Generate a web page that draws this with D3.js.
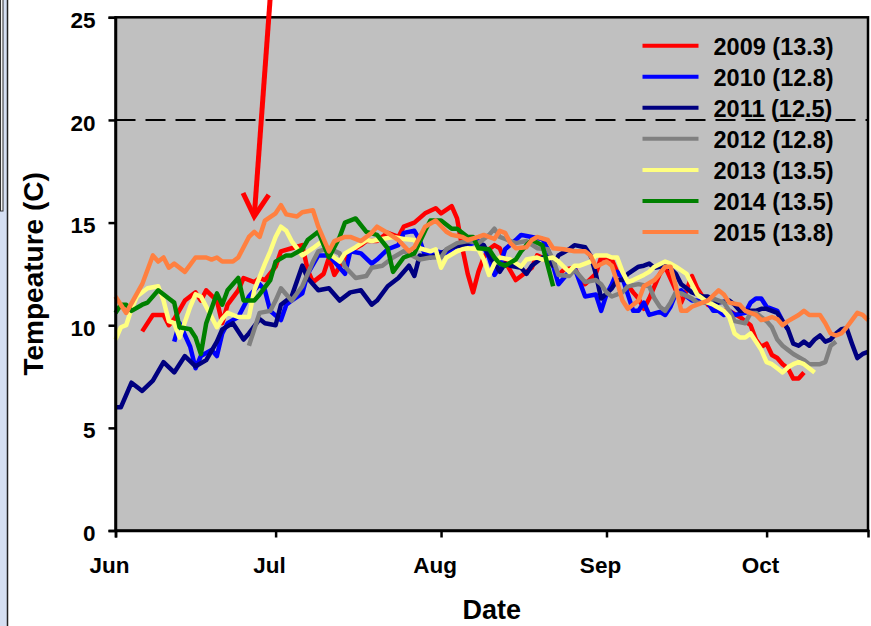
<!DOCTYPE html>
<html>
<head>
<meta charset="utf-8">
<script src="https://cdn.jsdelivr.net/npm/d3@7"></script>
<style>
  body { margin: 0; background: #ffffff; }
  svg text { font-family: "Liberation Sans", Arial, sans-serif; font-weight: bold; fill: #000; }
</style>
</head>
<body>
<div id="chart-area"></div>
<script>
// Daily water temperature, [days after Jun 1, temperature C]
const t2009 = [[5,9.7],[7,10.5],[9,10.5],[10,10.0],[11,10.3],[13,11.2],[15,11.6],[16,11.2],[17,11.7],[19,11.2],[20,10.1],[21,11.0],[23,11.7],[24,12.3],[26,12.1],[27,12.3],[28,12.2],[30,12.85],[31,13.6],[33,13.75],[35,13.9],[36,12.7],[37,12.1],[39,12.5],[40,13.3],[41,12.45],[42,12.85],[44,13.6],[46,13.9],[47,14.1],[49,14.1],[51,14.5],[53,14.3],[54,14.8],[56,15.0],[58,15.45],[60,15.7],[61,15.45],[63,15.8],[64,15.2],[65,13.75],[66,12.5],[67,11.6],[68,12.6],[69,13.3],[70,13.7],[71,13.9],[72,13.75],[73,13.1],[75,12.2],[76,12.4],[78,12.8],[79,13.4],[80,13.3],[82,12.9],[83,12.45],[84,12.7],[86,12.8],[87,12.3],[88,12.0],[90,12.5],[91,13.3],[93,13.2],[94,12.6],[95,12.3],[97,11.6],[98,11.3],[99,10.8],[100,11.3],[101,11.9],[102,12.5],[103,12.85],[105,11.7],[106,11.1],[107,11.7],[108,12.4],[109,11.8],[111,11.0],[113,10.7],[115,10.7],[117,10.4],[119,10.0],[120,9.3],[121,8.95],[122,9.1],[123,8.55],[124,8.4],[125,8.1],[126,7.9],[127,7.4],[128,7.4],[129,7.7]];
const t2010 = [[11,9.2],[12,10.1],[14,8.95],[15,7.9],[16,8.5],[18,8.8],[19,8.5],[20,9.6],[21,10.1],[23,10.4],[25,11.4],[26,11.7],[27,12.0],[28,11.7],[29,10.7],[31,10.25],[32,11.0],[33,11.2],[35,11.55],[36,12.5],[38,13.4],[40,13.4],[41,13.1],[43,12.5],[44,13.6],[46,13.5],[48,13.0],[49,13.2],[51,13.7],[53,13.9],[54,14.5],[56,14.6],[57,14.15],[58,13.4],[60,13.6],[62,13.5],[64,13.9],[65,14.0],[66,13.9],[68,14.1],[69,13.8],[70,13.3],[71,12.45],[72,12.85],[73,13.7],[75,14.15],[76,14.4],[78,14.3],[80,14.2],[81,13.7],[82,12.9],[83,12.0],[85,12.6],[86,12.8],[87,12.1],[88,11.4],[90,11.5],[91,10.7],[92,11.5],[93,12.0],[94,12.6],[95,12.3],[96,11.5],[97,10.7],[98,10.7],[99,11.1],[100,10.5],[102,10.65],[103,10.5],[104,10.9],[105,11.55],[106,11.7],[107,11.4],[108,11.2],[109,11.2],[111,11.1],[112,10.7],[113,10.7],[114,10.5],[115,10.7],[116,10.5],[118,10.6],[119,11.1],[120,11.3],[121,11.3],[122,10.9],[123,10.8],[124,10.7],[125,10.2],[126,9.8]];
const t2011 = [[0,6.0],[1,6.0],[3,7.2],[5,6.8],[7,7.3],[9,8.2],[11,7.7],[13,8.5],[15,8.0],[17,8.3],[19,9.2],[20,9.8],[22,10.1],[24,9.3],[25,9.6],[27,10.3],[28,10.1],[30,10.0],[31,11.0],[33,11.4],[35,12.9],[36,12.3],[38,11.7],[40,11.8],[42,11.2],[44,11.6],[46,11.7],[48,11.0],[49,11.2],[51,11.9],[53,12.3],[55,12.9],[56,12.4],[57,13.4],[59,13.3],[61,13.5],[63,13.8],[65,13.9],[67,14.1],[69,13.9],[70,13.4],[72,12.6],[73,13.0],[74,12.9],[76,12.8],[77,12.5],[78,12.9],[80,13.3],[81,13.3],[82,12.9],[83,13.4],[85,13.7],[86,13.9],[88,13.8],[89,13.4],[90,12.5],[91,11.3],[93,11.8],[94,12.2],[95,12.2],[96,12.5],[98,12.85],[99,12.9],[100,13.0],[101,12.8],[102,12.85],[103,13.0],[105,12.5],[106,12.0],[107,11.8],[108,11.6],[110,11.4],[111,11.4],[112,11.2],[113,11.1],[115,11.2],[116,11.0],[117,10.7],[118,10.7],[120,10.7],[121,10.8],[122,10.8],[124,10.6],[125,10.2],[126,9.8],[127,9.1],[128,9.0],[129,9.2],[130,9.0],[131,9.3],[132,9.5],[133,9.2],[134,9.3],[135,9.6],[136,9.8],[137,9.85],[138,9.1],[139,8.4],[140,8.6],[141,8.7]];
const t2012 = [[25,9.0],[26,9.8],[27,10.6],[29,10.7],[30,11.2],[31,11.8],[32,11.5],[33,11.2],[35,11.9],[37,13.1],[38,13.6],[40,13.75],[42,13.5],[43,12.85],[45,12.3],[47,12.4],[48,12.8],[50,12.9],[52,13.3],[54,13.6],[57,13.2],[59,13.3],[61,13.3],[62,13.7],[64,14.0],[66,14.1],[68,14.0],[70,14.4],[71,14.7],[72,14.3],[73,14.2],[75,14.0],[77,14.1],[79,13.75],[81,13.7],[82,13.2],[83,12.45],[85,12.4],[86,12.7],[87,12.4],[88,12.1],[90,12.2],[91,12.0],[92,11.6],[93,11.4],[95,11.6],[96,11.9],[98,12.0],[100,11.9],[101,11.3],[102,10.9],[103,10.7],[104,11.1],[105,11.6],[106,11.55],[108,11.3],[109,11.1],[111,11.1],[112,11.3],[114,11.1],[115,10.7],[116,10.2],[118,10.1],[119,10.6],[120,10.6],[121,10.4],[122,10.2],[123,9.9],[124,9.3],[125,9.0],[126,8.8],[127,8.6],[129,8.3],[130,8.1],[132,8.1],[133,8.2],[134,9.0],[135,9.2]];
const t2013 = [[0,9.3],[1,9.9],[2,10.0],[3,10.8],[4,11.4],[6,11.8],[8,11.9],[9,11.2],[10,10.2],[11,10.1],[12,9.4],[14,10.9],[15,11.5],[16,11.4],[18,10.4],[19,9.9],[20,10.3],[21,10.6],[23,10.4],[25,10.4],[26,11.7],[28,13.0],[29,13.6],[30,14.3],[31,14.8],[32,14.6],[33,14.1],[35,13.4],[37,13.75],[39,14.15],[40,13.5],[42,13.1],[43,13.5],[45,13.8],[47,14.15],[48,14.1],[50,14.2],[52,14.3],[54,14.2],[56,14.15],[57,13.75],[59,13.6],[60,13.7],[61,12.8],[62,13.3],[64,13.6],[65,13.7],[66,13.75],[68,13.7],[69,13.2],[70,12.45],[71,13.0],[72,13.3],[74,13.2],[76,12.85],[77,13.2],[79,13.3],[80,13.2],[82,13.3],[83,13.1],[85,12.6],[86,12.9],[87,12.9],[89,13.1],[90,13.4],[92,13.4],[93,13.3],[94,13.3],[95,12.6],[96,12.1],[97,12.2],[99,12.45],[100,12.6],[101,12.85],[103,13.1],[104,13.0],[105,12.85],[107,12.5],[108,12.0],[109,11.5],[110,11.3],[111,11.1],[112,11.0],[114,10.7],[115,10.4],[116,9.6],[117,9.4],[118,9.4],[119,9.6],[120,9.2],[121,8.8],[122,8.2],[123,8.1],[124,7.9],[125,7.7],[126,7.95],[127,8.1],[128,8.2],[129,8.1],[131,7.7]];
const t2014 = [[0,10.6],[1,11.0],[2,11.0],[3,10.7],[5,11.0],[6,11.1],[8,11.7],[10,11.3],[11,11.1],[12,9.9],[14,9.8],[15,9.4],[16,8.6],[17,10.1],[19,11.55],[20,11.0],[21,11.7],[23,12.3],[24,11.2],[26,11.2],[27,11.5],[29,12.2],[30,13.1],[32,13.4],[33,13.4],[35,13.7],[36,14.15],[38,14.55],[40,13.3],[42,14.3],[43,15.0],[45,15.2],[47,14.55],[49,14.4],[51,13.75],[52,12.6],[54,13.3],[56,13.5],[58,14.6],[59,15.1],[61,15.1],[63,14.7],[64,14.7],[66,14.3],[67,14.3],[68,13.75],[70,13.7],[71,13.3],[72,13.0],[73,12.9],[75,13.2],[76,13.6],[77,13.9],[78,14.15],[80,13.9],[81,12.9],[82,11.9]];
const t2015 = [[0,11.4],[2,10.6],[5,12.0],[7,13.4],[8,13.1],[9,13.3],[10,12.8],[11,13.0],[13,12.6],[15,13.3],[17,13.3],[18,13.2],[19,13.3],[20,13.1],[22,13.1],[23,13.3],[25,14.3],[26,14.55],[27,14.3],[28,15.1],[30,15.45],[31,15.85],[32,15.4],[34,15.3],[35,15.5],[37,15.6],[38,14.8],[40,13.6],[41,14.1],[43,14.3],[44,14.3],[46,14.1],[48,14.5],[49,14.8],[51,14.5],[53,14.15],[55,13.6],[56,13.8],[58,14.8],[60,15.1],[62,14.55],[63,14.4],[65,14.3],[66,14.15],[68,14.3],[69,14.4],[71,14.2],[72,14.6],[73,14.5],[74,14.0],[75,13.75],[77,13.8],[78,14.15],[79,14.3],[81,14.15],[82,13.75],[84,13.7],[86,13.6],[88,13.6],[89,13.4],[90,12.85],[92,13.1],[93,12.9],[94,12.1],[95,11.2],[96,10.8],[98,11.2],[99,11.9],[101,12.2],[102,12.5],[103,12.85],[104,12.85],[105,11.9],[106,10.7],[107,10.7],[108,10.9],[110,11.1],[111,11.2],[113,11.7],[114,11.5],[115,11.1],[117,11.0],[118,10.7],[120,10.5],[121,10.25],[122,10.3],[123,10.4],[124,10.3],[125,10.0],[126,10.2],[128,10.5],[129,10.7],[130,10.5],[132,10.5],[133,10.1],[134,9.6],[135,9.5],[136,9.6],[137,9.9],[138,10.25],[139,10.6],[140,10.5],[141,10.25]];

// Legend labels (season mean) and colours
const seriesNames = ['2009 (13.3)', '2010 (12.8)', '2011 (12.5)', '2012 (12.8)', '2013 (13.5)', '2014 (13.5)', '2015 (13.8)'];
const seriesColors = ['#FF0000', '#0000FF', '#000080', '#808080', '#FFFF80', '#008000', '#FF8040'];
const seriesData = [t2009, t2010, t2011, t2012, t2013, t2014, t2015];

const yTicks = [0, 5, 10, 15, 20, 25];
const monthTicks = ['Jun', 'Jul', 'Aug', 'Sep', 'Oct'];
const thresholdTemp = 20;
// Annotation arrow, [day, temperature] of tail and tip
const arrowTail = [29.5, 26.0];
const arrowTip = [26.5, 15.3];

const seasonStart = new Date(2015, 5, 1);
const seasonEnd = new Date(2015, 9, 20);
const toDate = d => d3.timeDay.offset(seasonStart, d);

function drawChart() {
    const W = 871, H = 626;
    const margin = { top: 17.3, right: 3, bottom: 95.5, left: 115.5 };
    const width = W - margin.left - margin.right;
    const height = H - margin.top - margin.bottom;

    const svg = d3.select("#chart-area")
        .append("svg")
        .attr("width", W)
        .attr("height", H);

    // Slide edge on the left
    svg.append("rect").attr("x", 0).attr("y", 0).attr("width", 7).attr("height", H).attr("fill", "#D5DFF2");
    svg.append("rect").attr("x", 0.5).attr("y", -1).attr("width", 2.5).attr("height", 212)
        .attr("fill", "#F2F2F2").attr("stroke", "#333").attr("stroke-width", 1);
    svg.append("line").attr("x1", 7.5).attr("x2", 7.5).attr("y1", 0).attr("y2", H)
        .attr("stroke", "#222").attr("stroke-width", 1.5);

    const g = svg.append("g")
        .attr("transform", `translate(${margin.left},${margin.top})`);

    const x = d3.scaleTime()
        .domain([seasonStart, seasonEnd])
        .range([0, width]);

    const y = d3.scaleLinear()
        .domain([0, 25])
        .range([height, 0]);

    // Plot background
    g.append("rect")
        .attr("width", width)
        .attr("height", height)
        .attr("fill", "#C0C0C0");

    // Temperature lines
    const line = d3.line()
        .x(d => x(toDate(d[0])))
        .y(d => y(d[1]));

    g.selectAll(".series")
        .data(seriesData)
        .enter()
        .append("path")
        .attr("class", "series")
        .attr("d", line)
        .attr("fill", "none")
        .attr("stroke", (d, i) => seriesColors[i])
        .attr("stroke-width", 4.5)
        .attr("stroke-linejoin", "round");

    // Legend
    const legend = g.selectAll(".legend")
        .data(seriesNames)
        .enter()
        .append("g")
        .attr("class", "legend")
        .attr("transform", (d, i) => `translate(527, ${28.4 + i * 31.05})`);

    legend.append("line")
        .attr("x1", 0).attr("x2", 56)
        .attr("stroke", (d, i) => seriesColors[i])
        .attr("stroke-width", 4);

    legend.append("text")
        .attr("x", 71)
        .attr("y", 9)
        .style("font-size", "23.5px")
        .text(d => d);

    // Dashed 20 C threshold
    g.append("line")
        .attr("x1", 0).attr("x2", width)
        .attr("y1", y(thresholdTemp)).attr("y2", y(thresholdTemp))
        .attr("stroke", "#000")
        .attr("stroke-width", 2)
        .attr("stroke-dasharray", "20,10");

    // Frame
    g.append("rect")
        .attr("width", width)
        .attr("height", height)
        .attr("fill", "none")
        .attr("stroke", "#000")
        .attr("stroke-width", 2.5);

    // Axes
    const yAxis = g.append("g")
        .call(d3.axisLeft(y).tickValues(yTicks).tickSize(7).tickPadding(13));
    yAxis.selectAll("text").attr("dy", "0.45em").style("font-size", "22.5px");

    const monthDates = d3.timeMonth.range(seasonStart, seasonEnd);
    const xAxis = g.append("g")
        .attr("transform", `translate(0,${height})`)
        .call(d3.axisBottom(x).tickValues(monthDates).tickSize(7).tickPadding(20)
            .tickFormat((d, i) => monthTicks[i]));
    xAxis.selectAll("text").attr("dx", "-6.5").style("font-size", "22.5px");

    [yAxis, xAxis].forEach(a => {
        a.select(".domain").attr("stroke-width", 2.5);
        a.selectAll(".tick line").attr("stroke-width", 2.5);
    });

    // Axis titles
    svg.append("text")
        .attr("transform", `translate(43, ${margin.top + height / 2}) rotate(-90)`)
        .attr("text-anchor", "middle")
        .style("font-size", "28px")
        .text("Tempeature (C)");

    svg.append("text")
        .attr("x", margin.left + width / 2)
        .attr("y", 619)
        .attr("text-anchor", "middle")
        .style("font-size", "27px")
        .text("Date");

    // Red arrow pointing at the 2015 early warm-up
    const tail = [x(toDate(arrowTail[0])), y(arrowTail[1])];
    const tip = [x(toDate(arrowTip[0])), y(arrowTip[1])];
    const ang = Math.atan2(tip[1] - tail[1], tip[0] - tail[0]);
    const arm = 26, spread = 0.52;
    const arrow = g.append("g").attr("fill", "none").attr("stroke", "#FF0000").attr("stroke-width", 5);
    arrow.append("line")
        .attr("x1", tail[0]).attr("y1", tail[1])
        .attr("x2", tip[0]).attr("y2", tip[1]);
    arrow.append("path")
        .attr("stroke-linejoin", "miter")
        .attr("d", d3.line()([
            [tip[0] - arm * Math.cos(ang - spread), tip[1] - arm * Math.sin(ang - spread)],
            tip,
            [tip[0] - arm * Math.cos(ang + spread), tip[1] - arm * Math.sin(ang + spread)]
        ]));
}

drawChart();
</script>
</body>
</html>
